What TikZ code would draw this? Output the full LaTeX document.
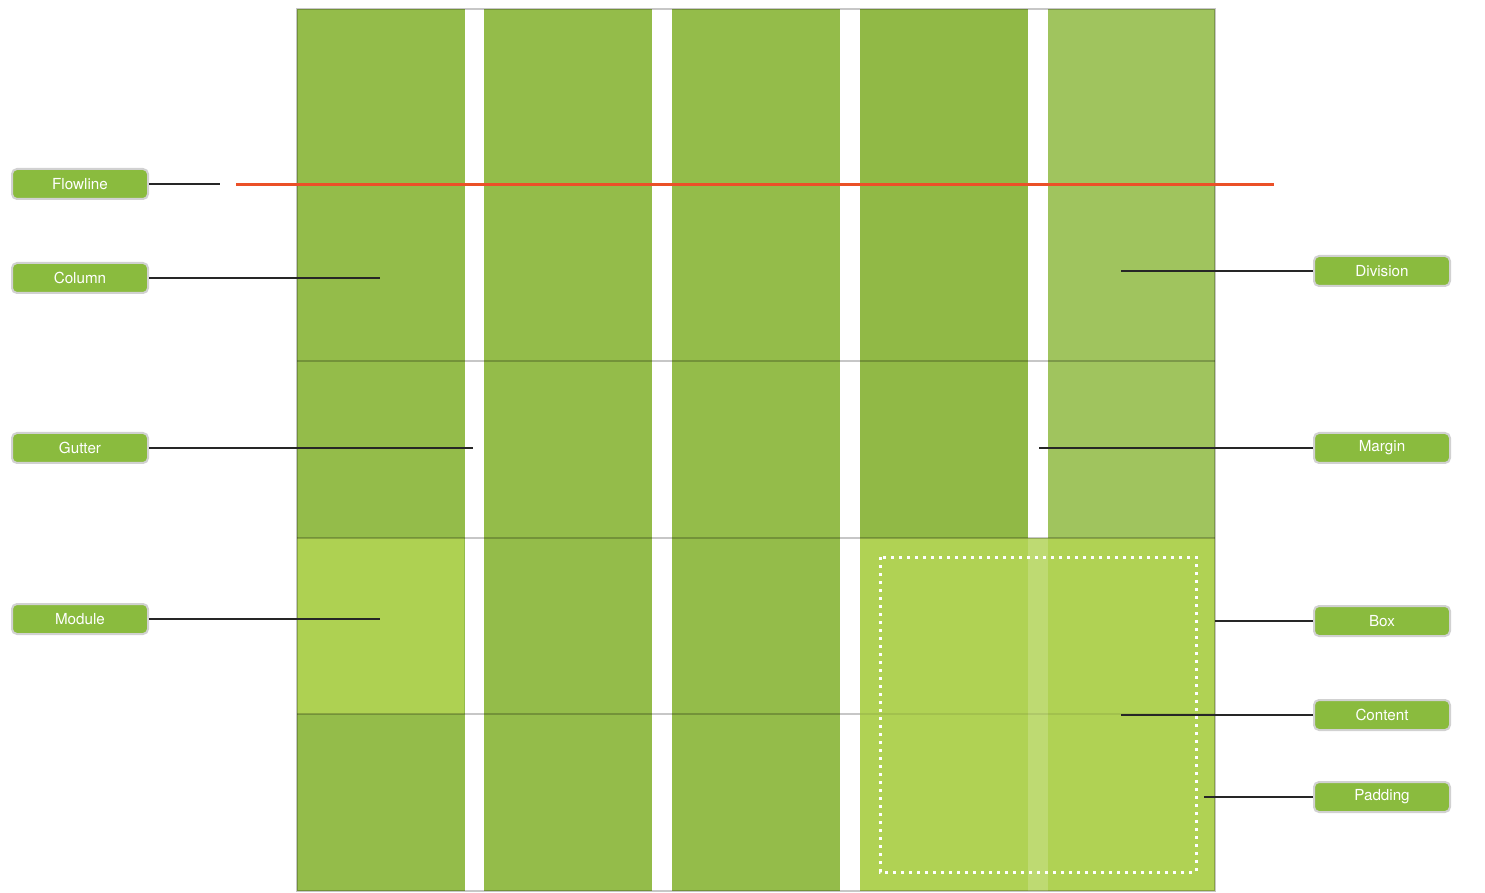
\documentclass[tikz,border=0pt]{standalone}
\usepackage{fontspec}
\setsansfont{TeX Gyre Heros}
\usetikzlibrary{positioning,calc}
\definecolor{colgreen}{RGB}{148,188,74}
\definecolor{col4green}{RGB}{145,185,70}
\definecolor{divgreen}{RGB}{160,196,94}
\definecolor{modgreen}{RGB}{174,209,82}
\definecolor{boxgreen}{RGB}{176,210,84}
\definecolor{taggreen}{RGB}{138,187,62}
\definecolor{flowred}{RGB}{235,80,40}

\begin{document}
\begin{tikzpicture}[
    x=0.5pt, y=-0.5pt,
    tag/.style={draw=black!18, line width=1pt, rounded corners=2.5pt, fill=taggreen, text=white,
      font=\sffamily\fontsize{7.6}{8}\selectfont, minimum width=68pt, minimum height=15pt, inner sep=0pt},
    lead/.style={line width=0.9pt, black!85},
    rowline/.style={black, opacity=0.22, line width=0.6pt}
  ]
  \useasboundingbox (0,0) rectangle (1485,893);

  % Columns
  \foreach \x in {297,484,672} {
    \fill[colgreen] (\x,9) rectangle ++(168,882);
  }
  \fill[col4green] (860,9) rectangle (1028,891);
  \fill[divgreen] (1048,9) rectangle (1215,538);
  \fill[modgreen] (297,538) rectangle (464,714);

  % Box
  \fill[boxgreen] (860,538) rectangle (1215,891);
  \fill[white, opacity=0.18] (1028,538) rectangle (1048,891);
  \draw[white, line width=1.5pt, dash pattern=on 1.5pt off 2.5pt] (880,557) rectangle (1196,872);

  % Rows and border
  \draw[rowline] (297,9) rectangle (1215,891);
  \draw[rowline] (297,361) -- (1215,361);
  \draw[rowline] (297,538) -- (1215,538);
  \draw[rowline] (297,714) -- (860,714);
  \draw[rowline, opacity=0.08] (860,714) -- (1215,714);

  % Flowline
  \draw[flowred, line width=1.5pt] (236,185) -- (1274,185);

  % Labels
  \node[tag] (flowline) at (80,184) {Flowline};
  \node[tag] (column) at (80,278) {Column};
  \node[tag] (gutter) at (80,448) {Gutter};
  \node[tag] (module) at (80,619) {Module};
  \node[tag] (division) at (1382,271) {Division};
  \node[tag] (margin) at (1382,448) {Margin};
  \node[tag] (box) at (1382,621) {Box};
  \node[tag] (content) at (1382,715) {Content};
  \node[tag] (padding) at (1382,797) {Padding};

  \coordinate (flowEnd) at (220,184);
  \coordinate (colEnd) at (380,278);
  \coordinate (gutEnd) at (473,448);
  \coordinate (modEnd) at (380,619);
  \coordinate (divEnd) at (1121,271);
  \coordinate (marEnd) at (1039,448);
  \coordinate (boxEnd) at (1215,621);
  \coordinate (conEnd) at (1121,715);
  \coordinate (padEnd) at (1204,797);

  \draw[lead] (flowline.east) -- (flowEnd);
  \draw[lead] (column.east) -- (colEnd);
  \draw[lead] (gutter.east) -- (gutEnd);
  \draw[lead] (module.east) -- (modEnd);
  \draw[lead] (division.west) -- (divEnd);
  \draw[lead] (margin.west) -- (marEnd);
  \draw[lead] (box.west) -- (boxEnd);
  \draw[lead] (content.west) -- (conEnd);
  \draw[lead] (padding.west) -- (padEnd);
\end{tikzpicture}
\end{document}
